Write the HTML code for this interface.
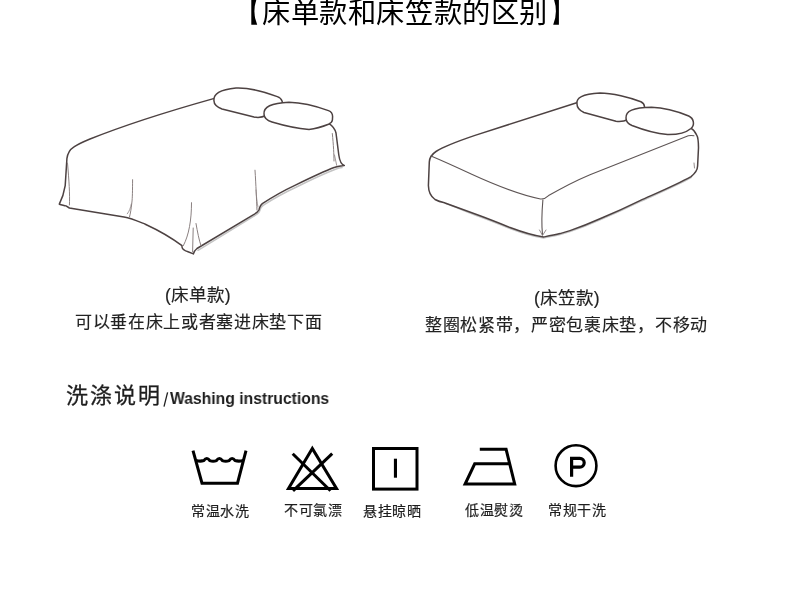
<!DOCTYPE html>
<html lang="zh-CN">
<head>
<meta charset="utf-8">
<style>
html,body{margin:0;padding:0;background:#fff;}
body{width:790px;height:593px;position:relative;overflow:hidden;font-family:"Liberation Sans",sans-serif;color:#111;}
.t{position:absolute;white-space:nowrap;line-height:1;will-change:transform;}
svg{position:absolute;left:0;top:0;}
</style>
</head>
<body>
<div class="t" id="title" style="left:261.9px;top:-1.2px;font-size:28.3px;letter-spacing:0.6px;color:#000;">床单款和床笠款的区别</div>
<svg width="790" height="593" style="position:absolute;left:0;top:0"><path d="M251.3 -2.5 H257.2 Q251.6 11.15 257.2 24.8 H251.3 Z" fill="#000"/><path d="M558.9 -2.5 H553.2 Q558.6 11.15 553.2 24.8 H558.9 Z" fill="#000"/></svg>

<div class="t" id="c1a" style="left:165px;top:287px;font-size:17.6px;color:#222;-webkit-text-stroke:0.15px #222;">(床单款)</div>
<div class="t" id="c1b" style="left:74.5px;top:313.5px;font-size:17px;letter-spacing:0.68px;color:#222;-webkit-text-stroke:0.15px #222;">可以垂在床上或者塞进床垫下面</div>
<div class="t" id="c2a" style="left:533.5px;top:290px;font-size:17.6px;color:#222;-webkit-text-stroke:0.15px #222;">(床笠款)</div>
<div class="t" id="c2b" style="left:424.5px;top:317px;font-size:17px;letter-spacing:0.68px;color:#222;-webkit-text-stroke:0.15px #222;">整圈松紧带，严密包裹床垫，不移动</div>

<div class="t" id="wash" style="left:66px;top:384.5px;-webkit-text-stroke:0.3px #1e1e1e;font-size:22px;letter-spacing:2px;color:#1e1e1e;">洗涤说明</div>
<svg width="790" height="593" style="position:absolute;left:0;top:0"><line x1="167.6" y1="392.4" x2="164" y2="406.6" stroke="#1e1e1e" stroke-width="1.3"/></svg>
<div class="t" id="washen" style="left:170px;top:389.6px;font-size:16.3px;letter-spacing:0px;transform:scaleX(0.965);transform-origin:0 0;font-weight:bold;color:#1e1e1e;">Washing instructions</div>

<div class="t" id="l1" style="left:190.5px;top:503.5px;font-size:14px;letter-spacing:0.7px;color:#1e1e1e;-webkit-text-stroke:0.2px #1e1e1e;">常温水洗</div>
<div class="t" id="l2" style="left:283.5px;top:503px;font-size:14px;letter-spacing:0.7px;color:#1e1e1e;-webkit-text-stroke:0.2px #1e1e1e;">不可氯漂</div>
<div class="t" id="l3" style="left:362.5px;top:504px;font-size:14px;letter-spacing:0.7px;color:#1e1e1e;-webkit-text-stroke:0.2px #1e1e1e;">悬挂晾晒</div>
<div class="t" id="l4" style="left:465px;top:502.5px;font-size:14px;letter-spacing:0.7px;color:#1e1e1e;-webkit-text-stroke:0.2px #1e1e1e;">低温熨烫</div>
<div class="t" id="l5" style="left:547.5px;top:502.5px;font-size:14px;letter-spacing:0.7px;color:#1e1e1e;-webkit-text-stroke:0.2px #1e1e1e;">常规干洗</div>

<svg width="790" height="593" viewBox="0 0 790 593" fill="none" stroke="#000">
  <!-- wash tub -->
  <g stroke-width="3" stroke-linejoin="miter">
    <path d="M193 450.6 L202 483.2 L237.5 483.2 L246 450.6"/>
    <path d="M196 460.4 Q200 461.8 203.8 460.6 Q206.8 456.4 209.8 460.6 Q213.1 462 216.4 460.6 Q219.4 456.4 222.4 460.6 Q225.75 462 229.1 460.6 Q232.1 456.4 235.1 460.6 Q239 461.8 243.5 460.4" stroke-linejoin="round" stroke-width="3.1"/>
  </g>
  <!-- no bleach -->
  <g stroke-width="3">
    <path d="M312.3 448.5 L288.5 488.4 L336.5 488.4 Z" stroke-linejoin="miter"/>
    <path d="M292.7 453.7 L330.5 490.8"/>
    <path d="M332.2 453.7 L293 490.8"/>
  </g>
  <!-- line dry -->
  <rect x="373.5" y="448.5" width="43.5" height="40.6" stroke-width="3"/>
  <rect x="393.9" y="458.7" width="3.1" height="19" fill="#000" stroke="none"/>
  <!-- iron -->
  <g stroke-width="3" stroke-linejoin="miter">
    <path d="M479.8 449.3 L506.1 449.3 L514.7 484 L465.1 484 L474.7 463.8 L508.7 463.8"/>
  </g>
  <!-- dry clean P -->
  <circle cx="576" cy="465.7" r="20.4" stroke-width="2.6"/>
  <path d="M571.6 476.8 V458.3 H579.8 A4.4 4.4 0 0 1 579.8 467.1 H571.6" stroke-width="3.2"/>
</svg>

<svg width="790" height="593" viewBox="0 0 790 593" fill="none" stroke="#4d4242" stroke-linecap="round" stroke-linejoin="round">
  <g stroke="#c4c4c4" stroke-width="1.5" fill="none" transform="translate(0,-0.7)">
    <path d="M198 251 L253.5 217 C257 215 258.5 214 259.5 212 C260.5 208.5 261.5 207 263.5 205.8 C275 198.5 285 193 295.5 188.2 C310 181 325 174 335.5 170 C338 169 340 168.5 342 168.3"/>
    <path d="M446 204.2 C458 208.7 468 213.2 480 217.5 C490 221.2 500 225.2 510 229.2 C522 233.7 533 237.2 543.6 238.7 C549 237.7 554.5 236.7 560 235.3 C563.5 234.3 566.5 233.4 570 232.3 C580 229 590 225 600 220.5 C615 214.2 628 208.2 640 202.3 C655 195.5 676 186.7 691 178.3"/>
  </g>
  <!-- bed 1 flat sheet -->
  <g stroke-width="1.5">
    <path d="M213.5 98.6 C180 108 130 123 90 139 C84 141.5 78 144 74 146.9 C69 150 67.5 154 66.9 158.7 L65.2 185.6 C64 193 62 199 59.3 204.2 C62 205 64 205.3 66 205.9 L69.4 208 C90 211.5 112 215 124 217 C131 218.2 135 220 145.3 224.2 C160 231 172 238 182 245.7 C181.5 248.5 184 250.5 188 251.8 L193.4 253.9 C194 251.5 195 250 197 248.5 L253.2 214.8 C256.5 213 258 212 258.9 210 C260 206 261 204.5 262.7 203.4 C275 195.5 285 190 294.9 185.4 C310 178 325 171 334.8 167.3 C338 166 341 165.6 344.3 165.4 C341.5 164.8 339.8 162 338.8 155 L336 133 C335 129 332 125.5 329 123.6"/>
  </g>
  <g stroke-width="1" stroke="#8a8080">
    <path d="M67.5 163 C69 180 70 195 69.4 205"/>
    <path d="M132.6 179.7 C132.5 190 132.5 198 131.8 203 C131.2 209 130.5 213 129.5 217"/>
    <path d="M131.3 204 C130.5 208 129.5 211 127.3 213.8" stroke-width="0.8"/>
    <path d="M191.5 202.7 C191.5 220 189 235 183.3 245.7"/>
    <path d="M193.2 228 L192.6 252"/>
    <path d="M196 223.5 C197.5 232 199 240 201 245.7"/>
    <path d="M255 170.2 C256 185 256.5 200 257 210"/>
    <path d="M256 190 C256.3 196 257 202 258 207" stroke-width="0.7"/>
    <path d="M332.3 133.5 C333.5 145 334 155 334 161"/>
    <path d="M334.5 155 L336.7 165.4" stroke-width="0.8"/>
  </g>
  <g stroke-width="1.5" fill="#fff">
    <path d="M214 101 C213 94 220 89.5 236 88 C248 87.5 265 92 277.3 96.6 C282.5 98.5 283.5 103 281 106 L266 115.5 C262 117.5 258 117.8 254 117 L222 109 C217 107 214 104.5 214 101 Z"/>
    <path d="M264 114 C263.5 107 271 103 289 102.2 C302 102.5 316 106 328.5 110.6 C331.8 111.9 332.6 114 332.6 116.5 L332.4 120 C332.2 122 330.8 123.2 328.5 124.2 C322 126.8 316 128.6 309 129.4 C297 128.5 282 125 272 122 C266.5 120.3 264 118 264 114 Z"/>
  </g>

  <!-- bed 2 fitted -->
  <g stroke-width="1.5">
    <path d="M576.7 102.7 L475 135.4 C457 141.5 443 147 436 151.5 C431.5 154.5 429.5 158 429.3 162 L428.4 185.6 C428.5 191 430.5 196.5 435 199.5 C438 201 441 202 443.6 202.5 C456 207 468 211.5 480 215.8 C490 219.5 500 223.5 510 227.5 C522 232 533 235.5 543.6 237 C549 236 554.5 235 560 233.6 C563.5 232.6 566.5 231.7 570 230.6 C580 227.3 590 223.3 600 218.8 C615 212.5 628 206.5 640 200.6 C655 193.8 676 185 691.1 176.6 C695.5 173 697.5 170 697.6 166 L698.5 147.8 C698.5 141 698 137 696.6 134.8 C695 131.5 693.5 129.5 691.1 128.3"/>
  </g>
  <g stroke-width="1.1" stroke="#5e5555">
    <path d="M431 156.1 C445 162 458 168 470.6 173.8 C495 185 520 195 540.5 199 C543 199.3 545 199 548.6 195.6 C560 189 575 181 590 174.7 L688.3 135.8 C690.5 135.3 692.5 135.5 693.9 135.8"/>
    <path d="M542.9 199.7 C542 210 541.5 225 542.5 234.8"/>
  </g>
  <g stroke-width="0.9" stroke="#8a8080">
    <path d="M539.5 230 L542.5 235.5 L546 230"/>
    <path d="M694 163 L694.5 168"/>
  </g>
  <g stroke-width="1.5" fill="#fff">
    <path d="M577 104 C576 98 582 94 600 93 C612 93 630 97.5 640.9 101.8 C645.5 104 645.5 109 642 111.5 L628 119.5 C624 121.5 620 121.8 616 121.3 L584 112.5 C579.5 110.5 577 107.5 577 104 Z"/>
    <path d="M626 118 C625.5 111 633 107.5 651.5 107.2 C663 107.5 678 111.5 688.7 116 C694 118.5 695 125 691 128.5 C687 131.8 678 134.8 667.5 134.6 C655 133.5 641 129 632 125.5 C628 123.8 626 121.5 626 118 Z"/>
  </g>
</svg>
</body>
</html>
